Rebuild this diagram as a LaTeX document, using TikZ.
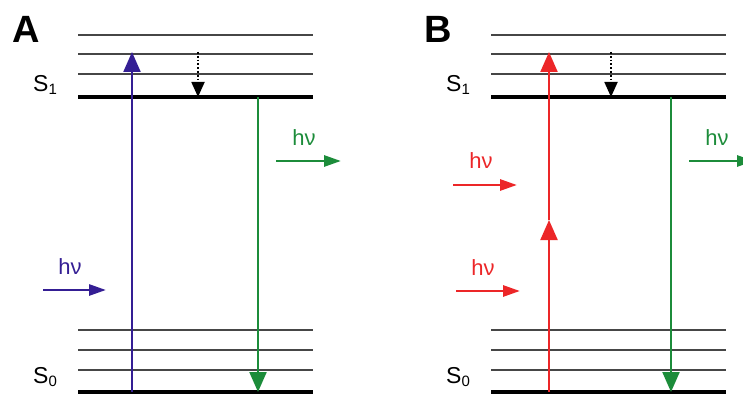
\documentclass[tikz,border=0pt]{standalone}
\usepackage{fontspec}
\setmainfont{Liberation Sans}
\usetikzlibrary{arrows.meta}
\definecolor{absviolet}{RGB}{52,30,148}
\definecolor{absred}{RGB}{236,38,40}
\definecolor{emgreen}{RGB}{28,140,58}
\definecolor{levelgray}{RGB}{70,70,70}
\tikzset{
  vib/.style={draw=levelgray, line width=1.2pt},
  elec/.style={draw=black, line width=4pt},
  trans/.style={line width=2.2pt, -{Triangle[length=20pt,width=17pt]}},
  photon/.style={line width=2.8pt, -{Triangle[length=17pt,width=11pt]}},
  relax/.style={line width=1.8pt, dotted, -{Triangle[length=15pt,width=13pt]}},
  statelbl/.style={font=\fontsize{23}{23}\selectfont, inner sep=0pt},
  hvlbl/.style={font=\fontsize{22}{22}\selectfont, inner sep=0pt},
  panellbl/.style={font=\fontsize{38}{38}\selectfont\bfseries, inner sep=0pt}
}
\newcommand{\lvlsub}[1]{\raisebox{-0.3ex}{\fontsize{15}{15}\selectfont #1}}
\begin{document}
\begin{tikzpicture}[x=1pt,y=-1pt]
\useasboundingbox (0,0) rectangle (743,398);
% one Jablonski panel per horizontal offset
\foreach \ox/\pn in {0/A,413/B}{
  \begin{scope}[xshift=\ox pt]
    \foreach \yy in {35,54,74,330,350,370}
      \draw[vib] (78,\yy) -- (313,\yy);
    \draw[elec] (78,97) -- (313,97);
    \draw[elec] (78,392) -- (313,392);
    \node[statelbl] (s1\pn) at (45,85) {S\lvlsub{1}};
    \node[statelbl] (s0\pn) at (45,377) {S\lvlsub{0}};
    % vibrational relaxation and emission
    \coordinate (rt\pn) at (198,52);
    \coordinate (rb\pn) at (198,97);
    \draw[relax] (rt\pn) -- (rb\pn);
    \coordinate (et\pn) at (258,97);
    \coordinate (eb\pn) at (258,392);
    \draw[trans, emgreen] (et\pn) -- (eb\pn);
    \coordinate (ps\pn) at (276,161);
    \coordinate (pe\pn) at (341,161);
    \draw[photon, emgreen] (ps\pn) -- (pe\pn);
    \node[hvlbl, text=emgreen] (hve\pn) at (304,138) {hν};
  \end{scope}
}
\node[panellbl] (labA) at (26,29) {A};
\node[panellbl] (labB) at (438,29) {B};
% panel A: one-photon absorption
\coordinate (aab) at (132,392);
\coordinate (aat) at (132,52);
\draw[trans, absviolet] (aab) -- (aat);
\coordinate (hpa1) at (43,290);
\coordinate (hpa2) at (106,290);
\draw[photon, absviolet] (hpa1) -- (hpa2);
\node[hvlbl, text=absviolet] (hva) at (70,267) {hν};
% panel B: two-photon absorption
\coordinate (bab) at (549,392);
\coordinate (bam) at (549,220);
\coordinate (bat) at (549,52);
\draw[trans, absred] (bab) -- (bam);
\draw[trans, absred] (bam) -- (bat);
\coordinate (hpb1) at (453,185);
\coordinate (hpb2) at (517,185);
\draw[photon, absred] (hpb1) -- (hpb2);
\node[hvlbl, text=absred] (hvb1) at (481,161) {hν};
\coordinate (hpc1) at (456,291);
\coordinate (hpc2) at (520,291);
\draw[photon, absred] (hpc1) -- (hpc2);
\node[hvlbl, text=absred] (hvb2) at (483,268) {hν};
\end{tikzpicture}
\end{document}
